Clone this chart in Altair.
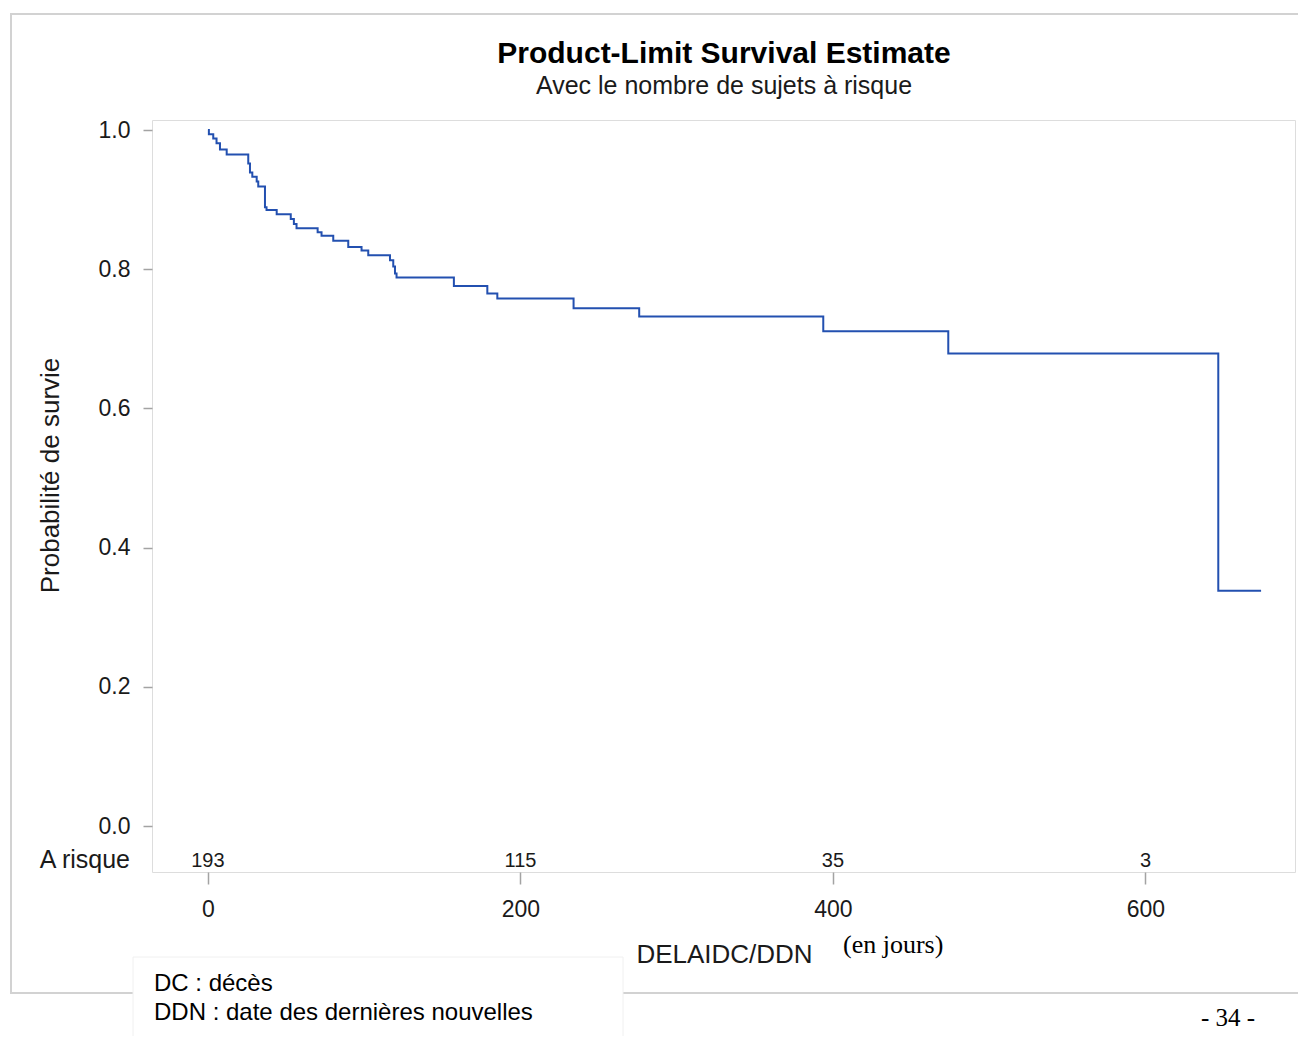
import altair as alt
import pandas as pd

# Kaplan-Meier step curve (time in days, survival probability)
times = [0, 0.6, 3.4, 5.5, 7.7, 12, 25.8, 26.9, 28.4, 31.2, 32.2, 36.5, 37.5, 44,
         53, 55, 56.7, 70.2, 72.7, 80.2, 89.8, 98.3, 102.6, 116.5, 118.6, 119.7,
         120.7, 157.4, 178.8, 185.2, 234, 276, 393.8, 473.8, 646.6, 674]
surv = [1.0, 0.994, 0.988, 0.981, 0.972, 0.965, 0.952, 0.939, 0.933, 0.926, 0.919,
        0.889, 0.885, 0.879, 0.872, 0.865, 0.859, 0.853, 0.848, 0.841, 0.832, 0.827,
        0.820, 0.813, 0.804, 0.794, 0.788, 0.776, 0.765, 0.758, 0.744, 0.732, 0.711,
        0.679, 0.338, 0.338]

risk_times = [0, 200, 400, 600]
risk_counts = [193, 115, 35, 3]
x_ticks = [0, 200, 400, 600]
y_ticks = [0.0, 0.2, 0.4, 0.6, 0.8, 1.0]

TITLE = "Product-Limit Survival Estimate"
SUBTITLE = "Avec le nombre de sujets à risque"

W, H = 1143, 752
SANS = "Liberation Sans"
SERIF = "Liberation Serif"
GRAY = "#a3a3a3"
TXT = "#1a1a1a"

curve = pd.DataFrame({"t": times, "s": surv})
risk = pd.DataFrame({"t": risk_times, "n": [str(n) for n in risk_counts]})
one = pd.DataFrame({"k": [0]})

xscale = alt.Scale(domain=[-35.8, 695.7], nice=False, zero=False)
yscale = alt.Scale(domain=[-0.066, 1.0144], nice=False, zero=False)

xenc = alt.X("t:Q", scale=xscale, axis=alt.Axis(
    values=x_ticks, format="d", title="DELAIDC/DDN", grid=False, domain=False,
    tickSize=12, tickColor=GRAY, tickWidth=1.5, labelPadding=14,
    labelFontSize=23, labelFont=SANS, labelColor=TXT,
    titleFontSize=26, titleFont=SANS, titleFontWeight="normal", titleColor=TXT,
    titleX=572, titleY=90, titleBaseline="alphabetic"))

line = alt.Chart(curve).mark_line(interpolate="step-after", color="#2350b0", strokeWidth=2).encode(
    x=xenc,
    y=alt.Y("s:Q", scale=yscale, axis=alt.Axis(
        values=y_ticks, format=".1f", title="Probabilité de survie", grid=False, domain=False,
        tickSize=9, tickColor=GRAY, tickWidth=1.5, labelPadding=13,
        labelFontSize=23, labelFont=SANS, labelColor=TXT,
        titleFontSize=26, titleFont=SANS, titleFontWeight="normal", titleColor=TXT,
        titleX=-102, titleY=355, titleBaseline="middle", titleAngle=270)),
)

risk_text = alt.Chart(risk).mark_text(fontSize=20, font=SANS, color=TXT, align="center",
                                      baseline="alphabetic").encode(
    x=xenc, y=alt.value(747), text="n:N")

risk_label = alt.Chart(one).mark_text(fontSize=25, font=SANS, color=TXT, align="right",
                                      baseline="alphabetic").encode(
    x=alt.value(-22), y=alt.value(748), text=alt.value("A risque"))

outer = alt.Chart(one).mark_rect(filled=False, stroke="#d2d2d2", strokeWidth=2).encode(
    x=alt.value(-141), x2=alt.value(1153), y=alt.value(-106), y2=alt.value(873))

note_box = alt.Chart(one).mark_rect(fill="white", stroke="#f0f0f0", strokeWidth=1).encode(
    x=alt.value(-19), x2=alt.value(471), y=alt.value(837), y2=alt.value(940))

title = alt.Chart(one).mark_text(fontSize=30, font=SANS, fontWeight="bold", color="#000",
                                 align="center", baseline="alphabetic").encode(
    x=alt.value(572), y=alt.value(-57), text=alt.value(TITLE))
subtitle = alt.Chart(one).mark_text(fontSize=25, font=SANS, color=TXT,
                                    align="center", baseline="alphabetic").encode(
    x=alt.value(572), y=alt.value(-26), text=alt.value(SUBTITLE))

note1 = alt.Chart(one).mark_text(fontSize=24, font=SANS, color="#000", align="left",
                                 baseline="alphabetic").encode(
    x=alt.value(2), y=alt.value(871), text=alt.value("DC : décès"))
note2 = alt.Chart(one).mark_text(fontSize=24, font=SANS, color="#000", align="left",
                                 baseline="alphabetic").encode(
    x=alt.value(2), y=alt.value(900), text=alt.value("DDN : date des dernières nouvelles"))

unit = alt.Chart(one).mark_text(fontSize=26, font=SERIF, color="#000", align="left",
                                baseline="alphabetic").encode(
    x=alt.value(691), y=alt.value(833), text=alt.value("(en jours)"))

page = alt.Chart(one).mark_text(fontSize=25, font=SERIF, color="#000", align="center",
                                baseline="alphabetic").encode(
    x=alt.value(1076), y=alt.value(906), text=alt.value("- 34 -"))

chart = alt.layer(outer, note_box, title, subtitle, note1, note2, unit, page,
                  line, risk_text, risk_label).properties(
    width=W, height=H,
    autosize=alt.AutoSizeParams(type="none"),
    padding={"left": 144, "top": 112, "right": 3, "bottom": 164},
).configure_view(stroke=GRAY, strokeWidth=2).configure(background="white")

chart.save("out.html", embed_options={"renderer": "svg", "actions": False})
